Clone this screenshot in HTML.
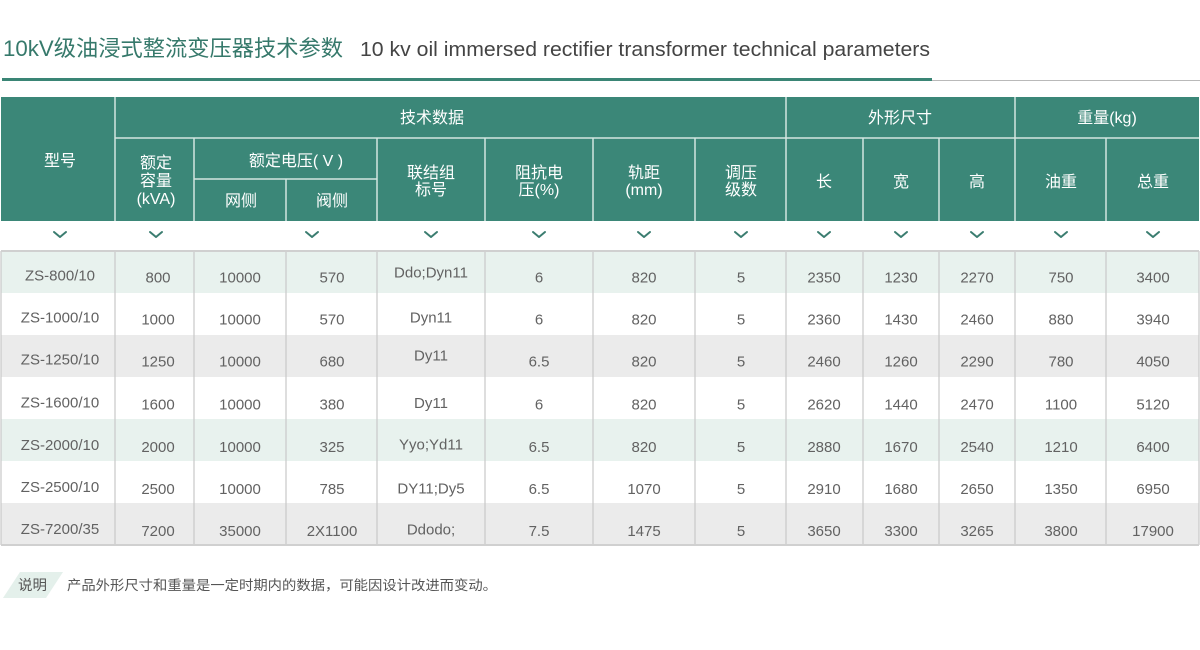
<!DOCTYPE html>
<html><head><meta charset="utf-8"><style>
html,body{margin:0;padding:0;background:#fff;width:1200px;height:650px;overflow:hidden}
svg{display:block}
text{font-family:"Liberation Sans","Noto Sans CJK SC",sans-serif}
.h{fill:#fff;font-size:16px;text-anchor:middle}
.d{fill:#626262;font-size:15px;text-anchor:middle}
</style></head><body>
<svg width="1200" height="650" viewBox="0 0 1200 650" xmlns="http://www.w3.org/2000/svg">
<!-- title -->
<text x="3" y="56" font-size="22" fill="#36796b" textLength="340" lengthAdjust="spacingAndGlyphs">10kV级油浸式整流变压器技术参数</text>
<text x="360" y="56" font-size="20" fill="#444" textLength="570" lengthAdjust="spacingAndGlyphs">10 kv oil immersed rectifier transformer technical parameters</text>
<line x1="2" y1="80.5" x2="1200" y2="80.5" stroke="#b9b9b9" stroke-width="1"/>
<rect x="2" y="78" width="930" height="3" fill="#3a8575"/>

<!-- header background -->
<rect x="1" y="97" width="1198" height="124" fill="#3b8778"/>
<g stroke="#d3e6e0" stroke-width="1.5">
<line x1="115" y1="138" x2="1199" y2="138"/>
<line x1="194" y1="179" x2="377" y2="179"/>
<line x1="115" y1="97" x2="115" y2="221"/>
<line x1="194" y1="138" x2="194" y2="221"/>
<line x1="286" y1="179" x2="286" y2="221"/>
<line x1="377" y1="138" x2="377" y2="221"/>
<line x1="485" y1="138" x2="485" y2="221"/>
<line x1="593" y1="138" x2="593" y2="221"/>
<line x1="695" y1="138" x2="695" y2="221"/>
<line x1="786" y1="97" x2="786" y2="221"/>
<line x1="863" y1="138" x2="863" y2="221"/>
<line x1="939" y1="138" x2="939" y2="221"/>
<line x1="1015" y1="97" x2="1015" y2="221"/>
<line x1="1106" y1="138" x2="1106" y2="221"/>
</g>
<text class="h" x="60" y="166">型号</text>
<text class="h" x="432" y="123">技术数据</text>
<text class="h" x="900" y="123">外形尺寸</text>
<text class="h" x="1107" y="123">重量(kg)</text>
<text class="h" x="156" y="168">额定</text>
<text class="h" x="156" y="186">容量</text>
<text class="h" x="156" y="204">(kVA)</text>
<text class="h" x="296" y="166">额定电压( V )</text>
<text class="h" x="241" y="206">网侧</text>
<text class="h" x="332" y="206">阀侧</text>
<text class="h" x="431" y="178">联结组</text>
<text class="h" x="431" y="195">标号</text>
<text class="h" x="539" y="178">阻抗电</text>
<text class="h" x="539" y="195">压(%)</text>
<text class="h" x="644" y="178">轨距</text>
<text class="h" x="644" y="195">(mm)</text>
<text class="h" x="741" y="178">调压</text>
<text class="h" x="741" y="195">级数</text>
<text class="h" x="824" y="187">长</text>
<text class="h" x="901" y="187">宽</text>
<text class="h" x="977" y="187">高</text>
<text class="h" x="1061" y="187">油重</text>
<text class="h" x="1153" y="187">总重</text>

<!-- chevrons -->
<g fill="none" stroke="#3b7d70" stroke-width="2" stroke-linecap="round" stroke-linejoin="round">
<path d="M54 232 L60 237 L66 232"/>
<path d="M150 232 L156 237 L162 232"/>
<path d="M306 232 L312 237 L318 232"/>
<path d="M425 232 L431 237 L437 232"/>
<path d="M533 232 L539 237 L545 232"/>
<path d="M638 232 L644 237 L650 232"/>
<path d="M735 232 L741 237 L747 232"/>
<path d="M818 232 L824 237 L830 232"/>
<path d="M895 232 L901 237 L907 232"/>
<path d="M971 232 L977 237 L983 232"/>
<path d="M1055 232 L1061 237 L1067 232"/>
<path d="M1147 232 L1153 237 L1159 232"/>
</g>

<!-- data rows backgrounds -->
<rect x="1" y="251" width="1198" height="42" fill="#e8f2ee"/>
<rect x="1" y="335" width="1198" height="42" fill="#ebebeb"/>
<rect x="1" y="419" width="1198" height="42" fill="#e8f2ee"/>
<rect x="1" y="503" width="1198" height="42" fill="#ebebeb"/>
<g stroke="#c9c9c9" stroke-width="1.2">
<line x1="1" y1="251" x2="1" y2="545"/>
<line x1="115" y1="251" x2="115" y2="545"/>
<line x1="194" y1="251" x2="194" y2="545"/>
<line x1="286" y1="251" x2="286" y2="545"/>
<line x1="377" y1="251" x2="377" y2="545"/>
<line x1="485" y1="251" x2="485" y2="545"/>
<line x1="593" y1="251" x2="593" y2="545"/>
<line x1="695" y1="251" x2="695" y2="545"/>
<line x1="786" y1="251" x2="786" y2="545"/>
<line x1="863" y1="251" x2="863" y2="545"/>
<line x1="939" y1="251" x2="939" y2="545"/>
<line x1="1015" y1="251" x2="1015" y2="545"/>
<line x1="1106" y1="251" x2="1106" y2="545"/>
<line x1="1199" y1="251" x2="1199" y2="545"/>
</g>
<rect x="1" y="250" width="1198" height="2" fill="#d0d0d0"/>
<rect x="1" y="544" width="1198" height="2" fill="#d0d0d0"/>

<!-- row 1 -->
<text class="d" x="60" y="280.5">ZS-800/10</text>
<text class="d" x="158" y="282.5">800</text>
<text class="d" x="240" y="282.5">10000</text>
<text class="d" x="332" y="282.5">570</text>
<text class="d" x="431" y="277.5">Ddo;Dyn11</text>
<text class="d" x="539" y="282.5">6</text>
<text class="d" x="644" y="282.5">820</text>
<text class="d" x="741" y="282.5">5</text>
<text class="d" x="824" y="282.5">2350</text>
<text class="d" x="901" y="282.5">1230</text>
<text class="d" x="977" y="282.5">2270</text>
<text class="d" x="1061" y="282.5">750</text>
<text class="d" x="1153" y="282.5">3400</text>
<!-- row 2 -->
<text class="d" x="60" y="322.5">ZS-1000/10</text>
<text class="d" x="158" y="324.5">1000</text>
<text class="d" x="240" y="324.5">10000</text>
<text class="d" x="332" y="324.5">570</text>
<text class="d" x="431" y="322.5">Dyn11</text>
<text class="d" x="539" y="324.5">6</text>
<text class="d" x="644" y="324.5">820</text>
<text class="d" x="741" y="324.5">5</text>
<text class="d" x="824" y="324.5">2360</text>
<text class="d" x="901" y="324.5">1430</text>
<text class="d" x="977" y="324.5">2460</text>
<text class="d" x="1061" y="324.5">880</text>
<text class="d" x="1153" y="324.5">3940</text>
<!-- row 3 -->
<text class="d" x="60" y="364.5">ZS-1250/10</text>
<text class="d" x="158" y="366.5">1250</text>
<text class="d" x="240" y="366.5">10000</text>
<text class="d" x="332" y="366.5">680</text>
<text class="d" x="431" y="360.5">Dy11</text>
<text class="d" x="539" y="366.5">6.5</text>
<text class="d" x="644" y="366.5">820</text>
<text class="d" x="741" y="366.5">5</text>
<text class="d" x="824" y="366.5">2460</text>
<text class="d" x="901" y="366.5">1260</text>
<text class="d" x="977" y="366.5">2290</text>
<text class="d" x="1061" y="366.5">780</text>
<text class="d" x="1153" y="366.5">4050</text>
<!-- row 4 -->
<text class="d" x="60" y="407.5">ZS-1600/10</text>
<text class="d" x="158" y="409.5">1600</text>
<text class="d" x="240" y="409.5">10000</text>
<text class="d" x="332" y="409.5">380</text>
<text class="d" x="431" y="408">Dy11</text>
<text class="d" x="539" y="409.5">6</text>
<text class="d" x="644" y="409.5">820</text>
<text class="d" x="741" y="409.5">5</text>
<text class="d" x="824" y="409.5">2620</text>
<text class="d" x="901" y="409.5">1440</text>
<text class="d" x="977" y="409.5">2470</text>
<text class="d" x="1061" y="409.5">1100</text>
<text class="d" x="1153" y="409.5">5120</text>
<!-- row 5 -->
<text class="d" x="60" y="450">ZS-2000/10</text>
<text class="d" x="158" y="452">2000</text>
<text class="d" x="240" y="452">10000</text>
<text class="d" x="332" y="452">325</text>
<text class="d" x="431" y="449.5">Yyo;Yd11</text>
<text class="d" x="539" y="452">6.5</text>
<text class="d" x="644" y="452">820</text>
<text class="d" x="741" y="452">5</text>
<text class="d" x="824" y="452">2880</text>
<text class="d" x="901" y="452">1670</text>
<text class="d" x="977" y="452">2540</text>
<text class="d" x="1061" y="452">1210</text>
<text class="d" x="1153" y="452">6400</text>
<!-- row 6 -->
<text class="d" x="60" y="492">ZS-2500/10</text>
<text class="d" x="158" y="494">2500</text>
<text class="d" x="240" y="494">10000</text>
<text class="d" x="332" y="494">785</text>
<text class="d" x="431" y="493.5">DY11;Dy5</text>
<text class="d" x="539" y="494">6.5</text>
<text class="d" x="644" y="494">1070</text>
<text class="d" x="741" y="494">5</text>
<text class="d" x="824" y="494">2910</text>
<text class="d" x="901" y="494">1680</text>
<text class="d" x="977" y="494">2650</text>
<text class="d" x="1061" y="494">1350</text>
<text class="d" x="1153" y="494">6950</text>
<!-- row 7 -->
<text class="d" x="60" y="534">ZS-7200/35</text>
<text class="d" x="158" y="536">7200</text>
<text class="d" x="240" y="536">35000</text>
<text class="d" x="332" y="536">2X1100</text>
<text class="d" x="431" y="534.5">Ddodo;</text>
<text class="d" x="539" y="536">7.5</text>
<text class="d" x="644" y="536">1475</text>
<text class="d" x="741" y="536">5</text>
<text class="d" x="824" y="536">3650</text>
<text class="d" x="901" y="536">3300</text>
<text class="d" x="977" y="536">3265</text>
<text class="d" x="1061" y="536">3800</text>
<text class="d" x="1153" y="536">17900</text>

<!-- footnote -->
<polygon points="20,572 63,572 46,598 3,598" fill="#e4f0eb"/>
<text x="18" y="590" font-size="14" fill="#555" textLength="29" lengthAdjust="spacingAndGlyphs">说明</text>
<text x="67" y="590" font-size="13.5" fill="#555" textLength="430" lengthAdjust="spacingAndGlyphs">产品外形尺寸和重量是一定时期内的数据，可能因设计改进而变动。</text>
</svg>
</body></html>
